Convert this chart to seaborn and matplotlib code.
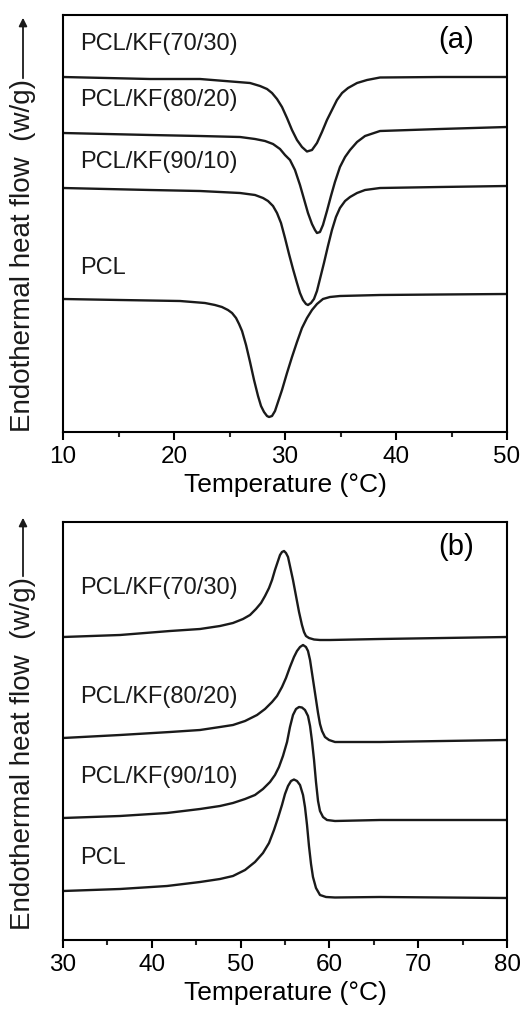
import numpy as np
import pandas as pd
import matplotlib
matplotlib.use("Agg")
import matplotlib.pyplot as plt
from matplotlib.ticker import MultipleLocator
import seaborn as sns

# ---------------- data: panel (a) ----------------
a_labels = ["PCL/KF(70/30)", "PCL/KF(80/20)", "PCL/KF(90/10)", "PCL"]

a_7030_T = [10, 17.84, 22.34, 26.85, 27.75, 28.38, 28.83, 29.28, 29.73, 30.18, 30.63, 31.08, 31.53,
            31.98, 32.43, 32.88, 33.33, 33.78, 34.23, 34.68, 35.14, 35.68, 36.49, 37.39, 38.56, 43.96, 50]
a_7030_y = [355, 353, 353, 349, 346, 343, 339, 333, 325, 314, 302, 292, 285,
            280.5, 282, 289, 300, 312, 322, 332, 339, 344, 349, 352, 354.5, 355, 355]

a_8020_T = [10, 17.84, 22.34, 25.95, 27.30, 28.20, 28.92, 29.55, 30.00, 30.45, 30.90, 31.35, 31.71, 32.07,
            32.43, 32.70, 32.88, 33.15, 33.42, 33.78, 34.14, 34.50, 34.95, 35.41, 35.86, 36.49, 37.21, 38.56,
            43.96, 50]
a_8020_y = [299, 297, 296, 295, 293, 291, 288, 283, 277, 272, 262, 247, 233, 219,
            208, 202, 199, 200, 207, 221, 236, 250, 265, 275, 282, 290, 296, 301,
            303, 305]

a_9010_T = [10, 17.84, 22.34, 25.95, 27.30, 28.02, 28.47, 28.92, 29.28, 29.64, 30.00, 30.36, 30.72, 31.08,
            31.35, 31.62, 31.89, 32.07, 32.34, 32.61, 32.88, 33.15, 33.51, 33.87, 34.23, 34.59, 34.95, 35.41,
            35.86, 36.49, 37.21, 38.56, 43.96, 50]
a_9010_y = [244, 242, 241, 239, 237, 234, 231, 226, 219, 209, 194, 178, 163, 149,
            139, 132, 128, 127, 129, 133, 141, 153, 169, 186, 202, 215, 224, 231,
            235, 239, 242, 244, 245, 246]

a_pcl_T = [10, 15.14, 20.54, 22.79, 23.69, 24.32, 24.86, 25.23, 25.59, 25.86, 26.13, 26.49, 26.85, 27.21,
           27.57, 27.84, 28.11, 28.38, 28.56, 28.83, 29.10, 29.37, 29.73, 30.18, 30.63, 31.08, 31.53, 31.98,
           32.43, 32.88, 33.42, 34.05, 34.95, 38.56, 43.96, 50]
a_pcl_y = [133, 132, 131, 129, 127, 125, 122, 119, 114, 108, 101, 87, 70, 52,
           36, 26, 20, 16, 15, 16, 21, 30, 42, 59, 75, 90, 104, 114,
           122, 128, 133, 135, 136, 137, 137.5, 138]

# ---------------- data: panel (b) ----------------
b_7030_T = [30, 36.42, 42.05, 45.43, 47.68, 49.14, 50.27, 51.06, 51.73, 52.30, 52.75, 53.20, 53.54, 53.87,
            54.21, 54.44, 54.66, 54.89, 55.11, 55.34, 55.56, 55.90, 56.24, 56.58, 56.91, 57.14, 57.36, 57.70,
            58.27, 58.94, 60.07, 65.70, 80]
b_7030_y = [303, 305, 309, 311, 314, 317, 321, 325, 331, 337, 344, 352, 360, 370,
            379, 385, 388, 389, 387, 383, 374, 360, 344, 328, 315, 308, 304, 302,
            300.5, 300, 300, 301, 303]

b_8020_T = [30, 36.42, 42.05, 45.43, 47.68, 49.14, 50.50, 51.85, 52.75, 53.54, 54.10, 54.66, 55.11, 55.56,
            56.01, 56.35, 56.69, 57.03, 57.36, 57.59, 57.82, 58.04, 58.38, 58.72, 58.94, 59.17, 59.50, 59.96,
            60.63, 65.70, 80]
b_8020_y = [202, 205, 208, 210, 213, 215, 219, 225, 231, 238, 244, 253, 262, 273,
            283, 289, 293, 295, 293, 289, 280, 267, 247, 227, 216, 209, 203, 200,
            198, 198, 200]

b_9010_T = [30, 36.42, 41.71, 45.43, 47.68, 49.14, 50.50, 51.62, 52.52, 53.31, 53.87, 54.32, 54.77, 55.23,
            55.56, 55.90, 56.24, 56.58, 56.91, 57.25, 57.59, 57.82, 58.04, 58.27, 58.49, 58.72, 58.94, 59.28,
            59.73, 60.63, 65.70, 80]
b_9010_y = [122, 124, 127, 131, 134, 137, 141, 145, 151, 158, 165, 173, 184, 198,
            213, 225, 231, 233, 232.5, 230, 224, 214, 199, 180, 158, 139, 129, 123,
            120, 119, 120, 120]

b_pcl_T = [30, 36.42, 41.71, 45.43, 47.68, 49.14, 50.50, 51.62, 52.52, 53.20, 53.76, 54.21, 54.66, 55.00,
           55.34, 55.68, 56.01, 56.35, 56.69, 57.03, 57.25, 57.48, 57.70, 57.93, 58.15, 58.49, 58.94, 59.62,
           60.63, 65.70, 80]
b_pcl_y = [49, 51, 54, 58, 61, 64, 70, 78, 87, 97, 110, 122, 135, 146,
           154, 159, 160.5, 159, 155, 145, 133, 115, 94, 76, 63, 52, 45, 43,
           42.5, 43, 42]

a_curves = [(a_7030_T, a_7030_y), (a_8020_T, a_8020_y), (a_9010_T, a_9010_y), (a_pcl_T, a_pcl_y)]
b_curves = [(b_7030_T, b_7030_y), (b_8020_T, b_8020_y), (b_9010_T, b_9010_y), (b_pcl_T, b_pcl_y)]

a_label_y = [388, 332, 270, 164]
b_label_y = [352, 243, 163, 82]

a_xticks = [10, 20, 30, 40, 50]
b_xticks = [30, 40, 50, 60, 70, 80]

# ---------------- plotting ----------------
sns.set_theme(style="ticks")
plt.rcParams["font.family"] = ["Liberation Sans", "DejaVu Sans"]
plt.rcParams["lines.solid_joinstyle"] = "round"

W, H = 528, 1016
fig = plt.figure(figsize=(W / 100, H / 100), dpi=100)

def px_box(left, top, right, bottom):
    return [left / W, 1 - bottom / H, (right - left) / W, (bottom - top) / H]

axa = fig.add_axes(px_box(63, 15, 507, 432))
axb = fig.add_axes(px_box(63, 522, 507, 940))

def style(ax, xlim, ylim, ticks):
    ax.set_xlim(*xlim)
    ax.set_ylim(*ylim)
    ax.set_xticks(ticks)
    ax.xaxis.set_minor_locator(MultipleLocator(5))
    ax.set_yticks([])
    for s in ax.spines.values():
        s.set_linewidth(1.5)
        s.set_color("black")
        s.set_visible(True)
    ax.tick_params(axis="x", which="major", direction="out", length=6, width=1.5,
                   labelsize=17.5, pad=4, colors="black", top=False)
    ax.tick_params(axis="x", which="minor", direction="out", length=3.8, width=1.5, top=False)
    ax.set_xlabel("Temperature (\u00b0C)", fontsize=19, labelpad=4, color="black")
    ax.set_ylabel("")

for ax, curves, ly, panel, tx in [
    (axa, a_curves, a_label_y, "(a)", 11.5),
    (axb, b_curves, b_label_y, "(b)", 31.9),
]:
    for T, y in curves:
        sns.lineplot(x=T, y=y, ax=ax, color="#1a1a1a", linewidth=1.7,
                     estimator=None, sort=False, legend=False)
    for lab, yy in zip(a_labels, ly):
        ax.text(tx, yy, lab, fontsize=17, ha="left", va="center", color="#1a1a1a")
    ax.text(0.886, 0.94, panel, transform=ax.transAxes, fontsize=21,
            ha="center", va="center", color="black")

style(axa, (10, 50), (0, 417), a_xticks)
style(axb, (30, 80), (0, 418), b_xticks)

for text_bottom, text_top, arrow_top in [(432, 85, 15), (930, 583, 515)]:
    fig.text(23 / W, 1 - text_bottom / H, "Endothermal heat flow  (w/g)", rotation=90,
             ha="center", va="bottom", fontsize=20, color="#1a1a1a")
    fig.add_artist(matplotlib.patches.FancyArrowPatch(
        (23 / W, 1 - (text_top - 4) / H), (23 / W, 1 - arrow_top / H),
        transform=fig.transFigure, arrowstyle="-|>", mutation_scale=12,
        linewidth=1.3, color="#1a1a1a"))

fig.savefig("out.png", dpi=100)
